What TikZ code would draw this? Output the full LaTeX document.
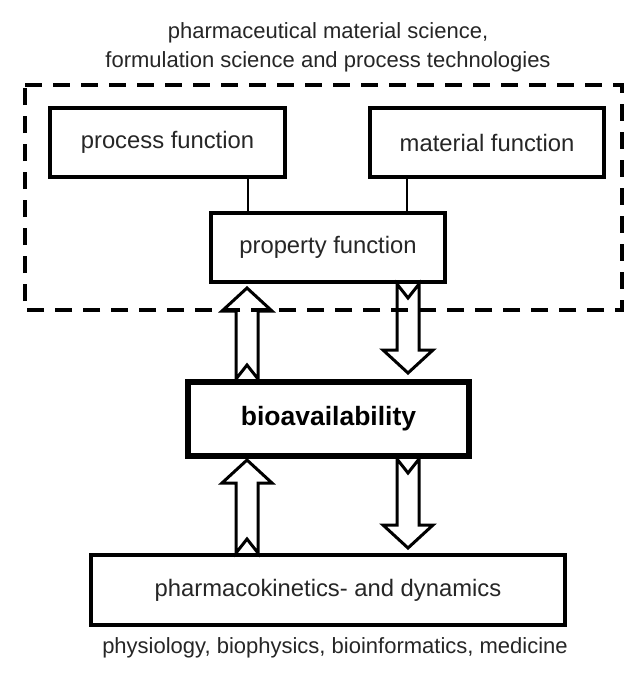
\documentclass[tikz,border=0pt]{standalone}
\usepackage{fontspec}
\setmainfont{Liberation Sans}
\usetikzlibrary{calc}
\definecolor{ink}{HTML}{262626}
\tikzset{
 fbox/.style={draw, line width=4pt, minimum height=69pt, inner sep=0pt, font=\fontsize{23.8}{28}\selectfont, text=ink},
 biobox/.style={draw, line width=6pt, minimum height=74pt, inner sep=0pt, font=\bfseries\fontsize{26.5}{30}\selectfont},
 conn/.style={line width=2.5pt},
 blk/.style={draw, fill=white, line width=3pt, line join=miter},
 dashbox/.style={line width=4pt, dash pattern=on 17pt off 11pt},
 caption/.style={font=\fontsize{22}{25}\selectfont, inner sep=0pt, text=ink, anchor=base}
}
% #1 x coordinate, #2 node at tail (below), #3 node at tip (above), #4 gap at tip
\newcommand{\blkup}[4]{\path[blk] let \p1=(#1 |- #2.north), \p2=(#1 |- #3.south) in
 (\x1-11pt,\y1) -- (\x1,\y1+14pt) -- (\x1+11pt,\y1) -- (\x1+11pt,\y2-#4-23pt) -- (\x1+25pt,\y2-#4-23pt) -- (\x1,\y2-#4) -- (\x1-25pt,\y2-#4-23pt) -- (\x1-11pt,\y2-#4-23pt) -- cycle;}
% #1 x coordinate, #2 node at tail (above), #3 node at tip (below), #4 gap at tip
\newcommand{\blkdown}[4]{\path[blk] let \p1=(#1 |- #2.south), \p2=(#1 |- #3.north) in
 (\x1-11pt,\y1) -- (\x1,\y1-14pt) -- (\x1+11pt,\y1) -- (\x1+11pt,\y2+#4+23pt) -- (\x1+25pt,\y2+#4+23pt) -- (\x1,\y2+#4) -- (\x1-25pt,\y2+#4+23pt) -- (\x1-11pt,\y2+#4+23pt) -- cycle;}
\begin{document}
\begin{tikzpicture}[x=1pt,y=-1pt]
\useasboundingbox (0,0) rectangle (627,677);
\fill[white] (0,0) rectangle (627,677);
% captions
\node[caption] (t1) at (328,39) {pharmaceutical material science,};
\node[caption] (t2) at (328,67) {formulation science and process technologies};
\node[caption] (t3) at (335,653) {physiology, biophysics, bioinformatics, medicine};
% boxes
\node[fbox, minimum width=235pt] (proc) at (167.5,142.5) {process function};
\node[fbox, minimum width=234pt] (mat) at (487,142.5) {material function};
\node[fbox, minimum width=234pt] (prop) at (328,247.5) {property function};
\node[biobox, minimum width=281pt] (bio) at (328.5,419) {bioavailability};
\node[fbox, minimum width=474pt, minimum height=70pt] (pk) at (328,590) {pharmacokinetics- and dynamics};
% connectors
\coordinate (cl) at (248,0);
\coordinate (cr) at (407,0);
\draw[conn] (proc.south -| cl) -- (prop.north -| cl);
\draw[conn] (mat.south -| cr) -- (prop.north -| cr);
% block arrows
\coordinate (al) at (247,0);
\coordinate (ar) at (408,0);
\blkup{al}{bio}{prop}{4pt}
\blkdown{ar}{prop}{bio}{6pt}
\blkup{al}{pk}{bio}{1pt}
\blkdown{ar}{bio}{pk}{5pt}
% dashed frame
\draw[dashbox] (25,85) -- (622,85) -- (622,310) -- (25,310) -- cycle;
\end{tikzpicture}
\end{document}
